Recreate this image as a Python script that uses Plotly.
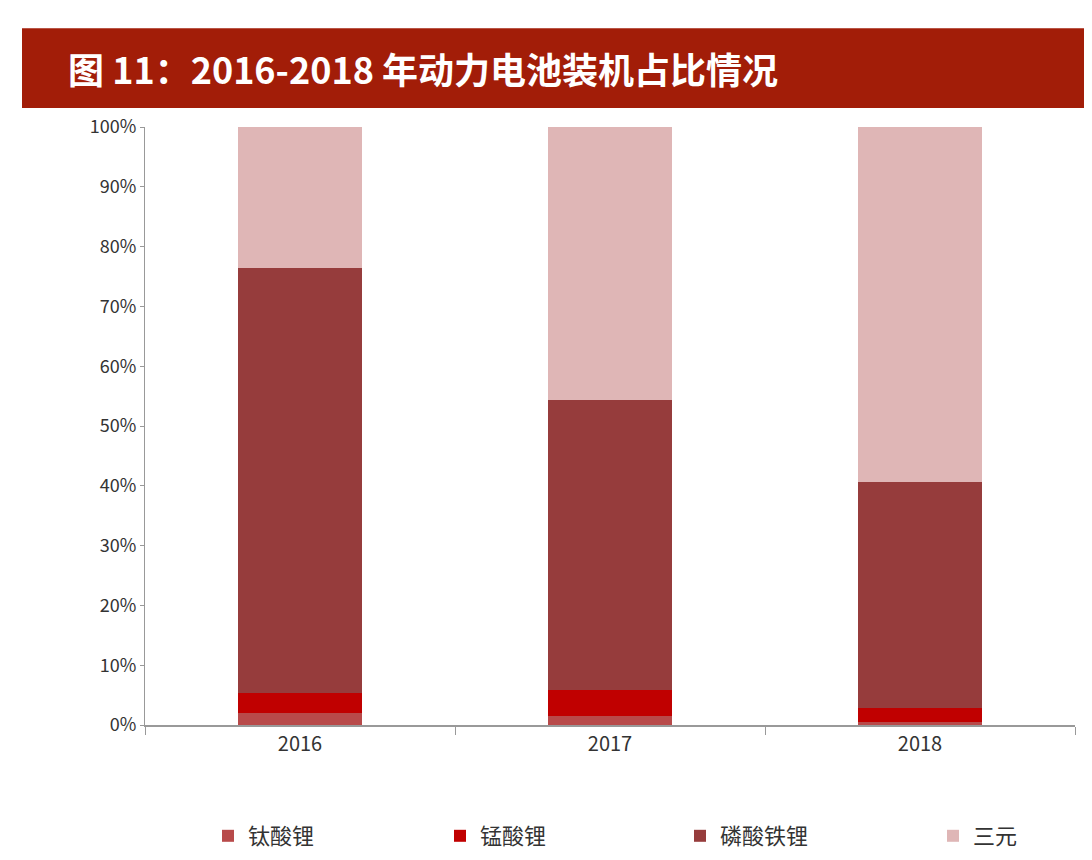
import plotly.graph_objects as go

years = ["2016", "2017", "2018"]
lto = [2.0, 1.5, 0.5]
lmo = [3.3, 4.3, 2.3]
lfp = [71.2, 48.5, 37.8]
ncm = [23.5, 45.7, 59.4]
names = ["钛酸锂", "锰酸锂", "磷酸铁锂", "三元"]
colors = ["#b84a4a", "#c00000", "#963c3c", "#dfb6b6"]

W, H = 1092, 860
l, r, t, b = 137, 25, 119, 142
pw, ph = W - l - r, H - t - b
def px(x): return (x - l) / pw
def py(y): return (H - b - y) / ph

fig = go.Figure()
legend_ids = ["legend", "legend2", "legend3", "legend4"]
legend_x = [200, 432, 672, 925]
for n, v, c, lid in zip(names, [lto, lmo, lfp, ncm], colors, legend_ids):
    fig.add_bar(x=years, y=v, name=n, legend=lid, marker=dict(color=c, line=dict(width=0)))

fig.add_shape(type="rect", xref="paper", yref="paper", x0=px(14), x1=px(1092), y0=py(100), y1=py(20),
              fillcolor="#a21d08", line=dict(width=0), layer="below")
fig.add_annotation(xref="paper", yref="paper", x=px(58), y=py(60), xanchor="left", yanchor="middle",
                   text="<b>图 11：2016-2018 年动力电池装机占比情况</b>", showarrow=False,
                   font=dict(size=36, color="white", family="Noto Sans CJK SC"))

layout_legends = {}
for lid, lx in zip(legend_ids, legend_x):
    layout_legends[lid] = dict(x=px(lx), xanchor="left", y=py(828), yanchor="middle",
                               font=dict(size=22, family="Noto Sans CJK SC", color="#333"),
                               bgcolor="rgba(0,0,0,0)")

fig.update_layout(
    width=W, height=H, barmode="stack", bargap=0.6,
    margin=dict(l=l, r=r, t=t, b=b), plot_bgcolor="white", paper_bgcolor="white",
    font=dict(family="Liberation Sans Narrow, Noto Sans CJK SC", color="#333", size=18),
    xaxis=dict(showline=True, linecolor="#999", linewidth=2, ticks="outside", ticklen=8,
               tickson="boundaries", tickcolor="#999", tickfont=dict(size=20)),
    yaxis=dict(range=[0, 100], dtick=10, ticksuffix="%", showgrid=False, showline=True,
               linecolor="#999", ticks="outside", ticklen=4, tickcolor="#999", tickfont=dict(size=18)),
    showlegend=True,
    **layout_legends,
)
fig.write_html("out.html")
